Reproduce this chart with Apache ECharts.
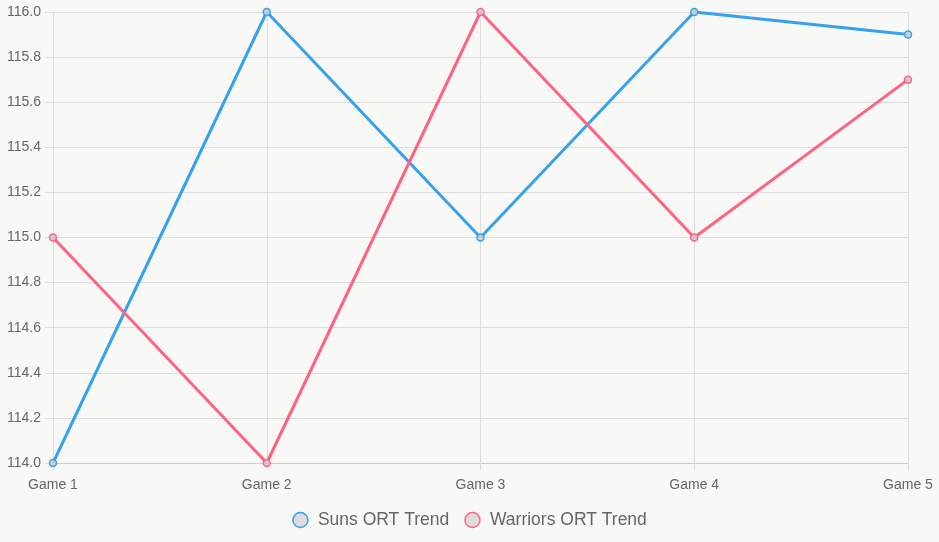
<!DOCTYPE html>
<html>
<head>
<meta charset="utf-8">
<script src="https://cdn.jsdelivr.net/npm/echarts@6/dist/echarts.min.js"></script>
<style>
  html, body { margin: 0; padding: 0; background: #f8f8f6; }
  #chart { width: 939px; height: 542px; }
</style>
</head>
<body>
<div id="chart"></div>
<script>
const categories = ["Game 1", "Game 2", "Game 3", "Game 4", "Game 5"];
const sunsOrt = [114.0, 116.0, 115.0, 116.0, 115.9];
const warriorsOrt = [115.0, 114.0, 116.0, 115.0, 115.7];

const myChart = echarts.init(document.getElementById("chart"));
const gridLine = { show: true, lineStyle: { color: "#dddddd", width: 1 } };
const font = "Liberation Sans, Arial, sans-serif";

function lineSeries(name, data, color) {
  return {
    name: name,
    type: "line",
    data: data,
    symbol: "circle",
    symbolSize: 7,
    showAllSymbol: true,
    lineStyle: { color: color, width: 3 },
    itemStyle: { color: "rgba(205,205,205,0.9)", borderColor: color, borderWidth: 1.5 },
    emphasis: { disabled: true },
  };
}

const option = {
  backgroundColor: "#f8f8f6",
  animation: false,
  grid: { left: 53, right: 31, top: 12, bottom: 79, containLabel: false },
  legend: {
    bottom: 8,
    left: "center",
    icon: "circle",
    itemWidth: 15,
    itemHeight: 15,
    itemGap: 15,
    textStyle: { color: "#666", fontSize: 17.5, fontFamily: font, padding: [0, 0, 0, 5] },
    data: [
      { name: "Suns ORT Trend", itemStyle: { color: "#dcdcdc", borderColor: "#36a2eb", borderWidth: 1.5 } },
      { name: "Warriors ORT Trend", itemStyle: { color: "#dcdcdc", borderColor: "#ff6384", borderWidth: 1.5 } },
    ],
  },
  xAxis: {
    type: "category",
    data: categories,
    boundaryGap: false,
    axisLine: { show: true, lineStyle: { color: "#cccccc" } },
    axisTick: { show: true, length: 7, lineStyle: { color: "#dddddd" } },
    axisLabel: { color: "#666", fontSize: 14, margin: 15, fontFamily: font },
    splitLine: gridLine,
  },
  yAxis: {
    type: "value",
    min: 114,
    max: 116,
    interval: 0.2,
    axisLine: { show: true, lineStyle: { color: "#dddddd" } },
    axisTick: { show: true, length: 8, lineStyle: { color: "#dddddd" } },
    axisLabel: {
      color: "#666",
      fontSize: 14,
      margin: 12,
      fontFamily: font,
      formatter: (v) => v.toFixed(1),
    },
    splitLine: gridLine,
  },
  series: [
    lineSeries("Suns ORT Trend", sunsOrt, "#36a2eb"),
    lineSeries("Warriors ORT Trend", warriorsOrt, "#ff6384"),
  ],
};
myChart.setOption(option);
</script>
</body>
</html>
